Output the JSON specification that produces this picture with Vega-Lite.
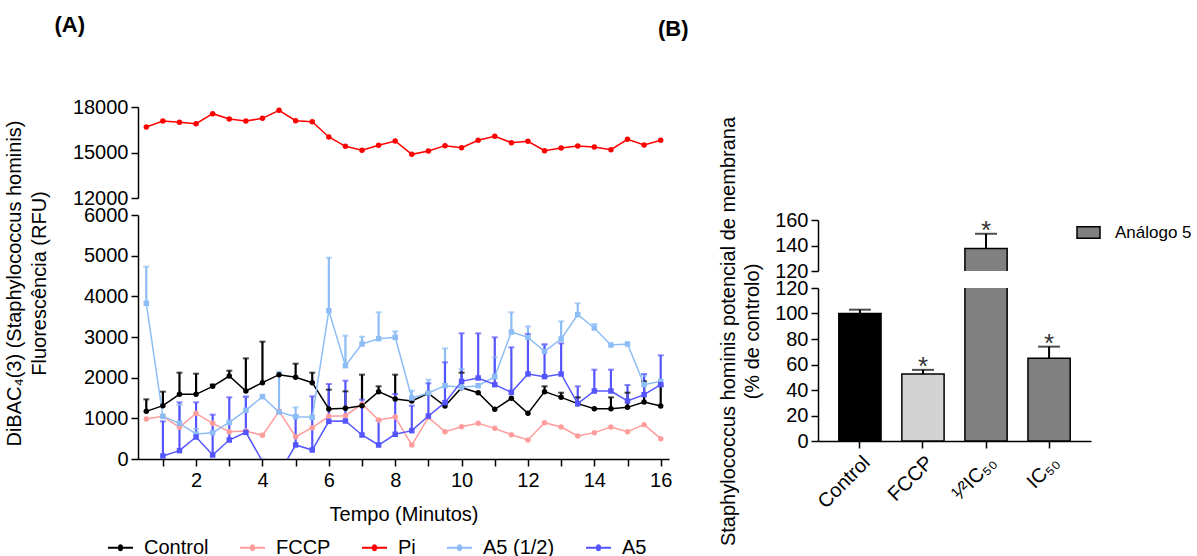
{
  "$schema": "https://vega.github.io/schema/vega-lite/v6.json",
  "background": "white",
  "padding": {"left": 4, "top": 14, "right": 0, "bottom": 40},
  "config": {
    "font": "Liberation Sans",
    "view": {"stroke": null},
    "axis": {"grid": false, "domainColor": "black", "tickColor": "black", "domainWidth": 1.5, "tickWidth": 1.5, "tickSize": 7, "labelFontSize": 20, "labelColor": "black", "titleFontSize": 20, "titleFontWeight": "normal", "titleColor": "black", "labelFont": "Liberation Sans", "titleFont": "Liberation Sans", "labelPadding": 3},
    "legend": {"labelFontSize": 20, "labelColor": "black", "labelFont": "Liberation Sans"},
    "title": {"font": "Liberation Sans", "color": "black"}
  },
  "datasets": {
    "lines": [
      {"s":"FCCP","t":0.5,"v":984},{"s":"FCCP","t":1,"v":1049},{"s":"FCCP","t":1.5,"v":779},{"s":"FCCP","t":2,"v":1123},{"s":"FCCP","t":2.5,"v":877},{"s":"FCCP","t":3,"v":672},{"s":"FCCP","t":3.5,"v":689},{"s":"FCCP","t":4,"v":582},{"s":"FCCP","t":4.5,"v":1172},{"s":"FCCP","t":5,"v":549},{"s":"FCCP","t":5.5,"v":770},{"s":"FCCP","t":6,"v":1049},{"s":"FCCP","t":6.5,"v":1066},{"s":"FCCP","t":7,"v":1352},{"s":"FCCP","t":7.5,"v":959},{"s":"FCCP","t":8,"v":1033},{"s":"FCCP","t":8.5,"v":344},{"s":"FCCP","t":9,"v":1025},{"s":"FCCP","t":9.5,"v":672},{"s":"FCCP","t":10,"v":795},{"s":"FCCP","t":10.5,"v":877},{"s":"FCCP","t":11,"v":754},{"s":"FCCP","t":11.5,"v":598},{"s":"FCCP","t":12,"v":467},{"s":"FCCP","t":12.5,"v":893},{"s":"FCCP","t":13,"v":787},{"s":"FCCP","t":13.5,"v":566},{"s":"FCCP","t":14,"v":648},{"s":"FCCP","t":14.5,"v":787},{"s":"FCCP","t":15,"v":672},{"s":"FCCP","t":15.5,"v":844},{"s":"FCCP","t":16,"v":500},
      {"s":"Control","t":0.5,"v":1172,"hi":1467},{"s":"Control","t":1,"v":1311,"hi":1656},{"s":"Control","t":1.5,"v":1590,"hi":2123},{"s":"Control","t":2,"v":1590,"hi":2098},{"s":"Control","t":2.5,"v":1787,"hi":1830},{"s":"Control","t":3,"v":2041,"hi":2172},{"s":"Control","t":3.5,"v":1672,"hi":2475},{"s":"Control","t":4,"v":1877,"hi":2885},{"s":"Control","t":4.5,"v":2074},{"s":"Control","t":5,"v":2008,"hi":2344},{"s":"Control","t":5.5,"v":1877,"hi":2123},{"s":"Control","t":6,"v":1230,"hi":1705},{"s":"Control","t":6.5,"v":1246,"hi":1664},{"s":"Control","t":7,"v":1311,"hi":2074},{"s":"Control","t":7.5,"v":1656,"hi":1787},{"s":"Control","t":8,"v":1475,"hi":2074},{"s":"Control","t":8.5,"v":1426},{"s":"Control","t":9,"v":1615},{"s":"Control","t":9.5,"v":1303},{"s":"Control","t":10,"v":1754,"hi":2123},{"s":"Control","t":10.5,"v":1631},{"s":"Control","t":11,"v":1221},{"s":"Control","t":11.5,"v":1492},{"s":"Control","t":12,"v":1123},{"s":"Control","t":12.5,"v":1656,"hi":1787},{"s":"Control","t":13,"v":1516,"hi":1631},{"s":"Control","t":13.5,"v":1361,"hi":1516},{"s":"Control","t":14,"v":1238},{"s":"Control","t":14.5,"v":1238,"hi":1516},{"s":"Control","t":15,"v":1270,"hi":1631},{"s":"Control","t":15.5,"v":1402,"hi":1910},{"s":"Control","t":16,"v":1303,"hi":1803},
      {"s":"A5 (1/2)","t":0.5,"v":3828,"hi":4730},{"s":"A5 (1/2)","t":1,"v":1049},{"s":"A5 (1/2)","t":1.5,"v":877,"hi":1328},{"s":"A5 (1/2)","t":2,"v":615,"hi":738},{"s":"A5 (1/2)","t":2.5,"v":648},{"s":"A5 (1/2)","t":3,"v":902},{"s":"A5 (1/2)","t":3.5,"v":1197,"hi":1533},{"s":"A5 (1/2)","t":4,"v":1533},{"s":"A5 (1/2)","t":4.5,"v":1156,"hi":2148},{"s":"A5 (1/2)","t":5,"v":1041,"hi":1270},{"s":"A5 (1/2)","t":5.5,"v":1025},{"s":"A5 (1/2)","t":6,"v":3648,"hi":4951},{"s":"A5 (1/2)","t":6.5,"v":2295,"hi":3033},{"s":"A5 (1/2)","t":7,"v":2828,"hi":3008},{"s":"A5 (1/2)","t":7.5,"v":2959,"hi":3607},{"s":"A5 (1/2)","t":8,"v":2992,"hi":3139},{"s":"A5 (1/2)","t":8.5,"v":1500,"hi":1680},{"s":"A5 (1/2)","t":9,"v":1623,"hi":1951},{"s":"A5 (1/2)","t":9.5,"v":1803,"hi":2721},{"s":"A5 (1/2)","t":10,"v":1762,"hi":2213},{"s":"A5 (1/2)","t":10.5,"v":1803},{"s":"A5 (1/2)","t":11,"v":2025,"hi":2500},{"s":"A5 (1/2)","t":11.5,"v":3123,"hi":3607},{"s":"A5 (1/2)","t":12,"v":2992,"hi":3262},{"s":"A5 (1/2)","t":12.5,"v":2648,"hi":2811},{"s":"A5 (1/2)","t":13,"v":2951,"hi":3385},{"s":"A5 (1/2)","t":13.5,"v":3549,"hi":3828},{"s":"A5 (1/2)","t":14,"v":3221,"hi":3320},{"s":"A5 (1/2)","t":14.5,"v":2803},{"s":"A5 (1/2)","t":15,"v":2828},{"s":"A5 (1/2)","t":15.5,"v":1828,"hi":2049},{"s":"A5 (1/2)","t":16,"v":1910},
      {"s":"A5","t":1,"v":74,"hi":926},{"s":"A5","t":1.5,"v":205,"hi":1393},{"s":"A5","t":2,"v":541,"hi":1393},{"s":"A5","t":2.5,"v":98,"hi":1090},{"s":"A5","t":3,"v":467,"hi":1516},{"s":"A5","t":3.5,"v":656,"hi":1533},{"s":"A5","t":4,"v":-60},{"s":"A5","t":4.5,"v":-360},{"s":"A5","t":5,"v":344,"hi":1066},{"s":"A5","t":5.5,"v":221,"hi":1541},{"s":"A5","t":6,"v":926,"hi":1844},{"s":"A5","t":6.5,"v":934,"hi":1926},{"s":"A5","t":7,"v":590,"hi":1459},{"s":"A5","t":7.5,"v":344,"hi":943},{"s":"A5","t":8,"v":607,"hi":1598},{"s":"A5","t":8.5,"v":697,"hi":1311},{"s":"A5","t":9,"v":1057,"hi":1861},{"s":"A5","t":9.5,"v":1385,"hi":2377},{"s":"A5","t":10,"v":1910,"hi":3090},{"s":"A5","t":10.5,"v":1992,"hi":3090},{"s":"A5","t":11,"v":1828,"hi":2992},{"s":"A5","t":11.5,"v":1639,"hi":2746},{"s":"A5","t":12,"v":2090,"hi":3074},{"s":"A5","t":12.5,"v":2025,"hi":2820},{"s":"A5","t":13,"v":2090,"hi":2844},{"s":"A5","t":13.5,"v":1361,"hi":1787},{"s":"A5","t":14,"v":1672,"hi":2197},{"s":"A5","t":14.5,"v":1672,"hi":2197},{"s":"A5","t":15,"v":1426,"hi":1820},{"s":"A5","t":15.5,"v":1582,"hi":2090},{"s":"A5","t":16,"v":1828,"hi":2549},
      {"s":"Pi","t":0.5,"v":16681},{"s":"Pi","t":1,"v":17077},{"s":"Pi","t":1.5,"v":16989},{"s":"Pi","t":2,"v":16901},{"s":"Pi","t":2.5,"v":17560},{"s":"Pi","t":3,"v":17209},{"s":"Pi","t":3.5,"v":17077},{"s":"Pi","t":4,"v":17253},{"s":"Pi","t":4.5,"v":17780},{"s":"Pi","t":5,"v":17099},{"s":"Pi","t":5.5,"v":17033},{"s":"Pi","t":6,"v":16022},{"s":"Pi","t":6.5,"v":15407},{"s":"Pi","t":7,"v":15143},{"s":"Pi","t":7.5,"v":15473},{"s":"Pi","t":8,"v":15758},{"s":"Pi","t":8.5,"v":14879},{"s":"Pi","t":9,"v":15099},{"s":"Pi","t":9.5,"v":15451},{"s":"Pi","t":10,"v":15319},{"s":"Pi","t":10.5,"v":15802},{"s":"Pi","t":11,"v":16066},{"s":"Pi","t":11.5,"v":15648},{"s":"Pi","t":12,"v":15736},{"s":"Pi","t":12.5,"v":15121},{"s":"Pi","t":13,"v":15297},{"s":"Pi","t":13.5,"v":15429},{"s":"Pi","t":14,"v":15363},{"s":"Pi","t":14.5,"v":15187},{"s":"Pi","t":15,"v":15868},{"s":"Pi","t":15.5,"v":15495},{"s":"Pi","t":16,"v":15802}
    ],
    "bars": [
      {"cat":"Control","grp":"Control","v":100,"hi":103,"star":""},
      {"cat":"FCCP","grp":"FCCP","v":52.5,"hi":55.8,"star":"*"},
      {"cat":"¹⁄²IC₅₀","grp":"Análogo 5","v":137.7,"hi":149.2,"star":"*"},
      {"cat":"IC₅₀","grp":"Análogo 5","v":65,"hi":74,"star":"*"}
    ]
  },
  "bounds": "flush",
  "resolve": {"scale": {"color": "independent", "shape": "independent", "x": "independent", "y": "independent"}, "legend": {"color": "independent"}},
  "spacing": 680,
  "hconcat": [
    {
      "title": {"text": "(A)", "anchor": "start", "fontSize": 22, "fontWeight": "bold", "dx": 50, "offset": 60},
      "spacing": 17,
      "bounds": "flush",
      "resolve": {"scale": {"x": "independent", "y": "independent"}, "legend": {"color": "independent"}},
      "vconcat": [
        {
          "width": 531, "height": 91,
          "data": {"name": "lines"},
          "transform": [{"filter": "datum.s === 'Pi'"}],
          "encoding": {
            "x": {"field": "t", "type": "quantitative", "scale": {"domain": [0.25, 16.25], "nice": false}, "axis": null},
            "y": {"field": "v", "type": "quantitative", "scale": {"domain": [12000, 18000], "nice": false, "zero": false}, "axis": {"values": [12000, 15000, 18000], "format": "d", "title": null}},
            "color": {"field": "s", "type": "nominal", "scale": {"domain": ["Control", "FCCP", "Pi", "A5 (1/2)", "A5"], "range": ["#000000", "#FF9C9C", "#FF0000", "#8DBDF5", "#5555FF"]}, "legend": null}
          },
          "layer": [
            {"mark": {"type": "line", "strokeWidth": 1.5, "clip": true}},
            {"mark": {"type": "point", "filled": true, "size": 30, "opacity": 1, "shape": "circle", "clip": true}}
          ]
        },
        {
          "width": 531, "height": 244,
          "data": {"name": "lines"},
          "transform": [{"filter": "datum.s !== 'Pi'"}],
          "resolve": {"legend": {"color": "independent"}},
          "encoding": {
            "x": {"field": "t", "type": "quantitative", "scale": {"domain": [0.25, 16.25], "nice": false},
                  "axis": {"values": [1,2,3,4,5,6,7,8,9,10,11,12,13,14,15,16], "labelExpr": "datum.value % 2 === 0 ? datum.label : ''", "labelOverlap": false, "labelFlush": false, "title": "Tempo (Minutos)", "titlePadding": 14, "labelPadding": 4}},
            "y": {"field": "v", "type": "quantitative", "scale": {"domain": [0, 6000], "nice": false}, "axis": {"values": [0,1000,2000,3000,4000,5000,6000], "format": "d", "title": ["DiBAC₄(3) (Staphylococcus hominis)", "Fluorescência (RFU)"], "titleY": 68, "titlePadding": 34, "titleLineHeight": 25}},
            "color": {"field": "s", "type": "nominal", "scale": {"domain": ["Control", "FCCP", "Pi", "A5 (1/2)", "A5"], "range": ["#000000", "#FF9C9C", "#FF0000", "#8DBDF5", "#5555FF"]}, "legend": null}
          },
          "layer": [
            {"transform": [{"filter": "datum.hi != null"}], "mark": {"type": "rule", "strokeWidth": 2.2, "clip": true}, "encoding": {"y2": {"field": "hi"}}},
            {"transform": [{"filter": "datum.hi != null"}], "mark": {"type": "tick", "orient": "horizontal", "size": 6, "thickness": 2, "clip": true}, "encoding": {"y": {"field": "hi", "type": "quantitative"}}},
            {"mark": {"type": "line", "strokeWidth": 1.5, "clip": true}},
            {"mark": {"type": "point", "filled": true, "opacity": 1, "clip": true},
             "encoding": {
               "shape": {"field": "s", "type": "nominal", "scale": {"domain": ["Control", "FCCP", "Pi", "A5 (1/2)", "A5"], "range": ["circle", "circle", "circle", "square", "square"]}, "legend": null},
               "size": {"value": 30},
               "color": {"field": "s", "type": "nominal", "scale": {"domain": ["Control", "FCCP", "Pi", "A5 (1/2)", "A5"], "range": ["#000000", "#FF9C9C", "#FF0000", "#8DBDF5", "#5555FF"]},
                 "legend": {"orient": "none", "legendX": -30, "legendY": 320, "direction": "horizontal", "title": null, "symbolType": "M-1,-0.08H-0.2A0.2,0.2 0 0,1 0.2,-0.08H1V0.08H0.2A0.2,0.2 0 0,1 -0.2,0.08H-1Z", "symbolSize": 625, "symbolStrokeWidth": 0, "symbolOpacity": 1, "labelFontSize": 20, "labelOffset": 11, "columnPadding": 31}}
             }}
          ]
        }
      ]
    },
    {
      "spacing": 17,
      "bounds": "flush",
      "resolve": {"scale": {"x": "independent", "y": "independent"}},
      "vconcat": [
        {
          "width": 273, "height": 96,
          "title": {"text": "(B)", "anchor": "start", "fontSize": 22, "fontWeight": "bold", "dx": -160, "offset": 66},
          "data": {"values": [{"a": 1}]},
          "mark": {"type": "text", "text": ""},
          "encoding": {}
        },
        {
          "width": 273, "height": 51,
          "data": {"name": "bars"},
          "encoding": {
            "x": {"field": "cat", "type": "nominal", "sort": null, "scale": {"paddingInner": 0.33, "paddingOuter": 0.33}, "axis": null},
            "y": {"field": "v", "type": "quantitative", "scale": {"domain": [120, 160], "nice": false, "zero": false}, "axis": {"values": [120, 140, 160], "title": null}}
          },
          "layer": [
            {"mark": {"type": "bar", "stroke": "black", "strokeWidth": 1.5, "clip": true},
             "encoding": {
               "y2": {"datum": 0},
               "color": {"field": "grp", "type": "nominal", "scale": {"domain": ["Control", "FCCP", "Análogo 5"], "range": ["#000000", "#D3D3D3", "#808080"]},
                 "legend": {"orient": "none", "legendX": 258, "legendY": 113, "title": null, "values": ["Análogo 5"], "symbolType": "M-1,-0.5H1V0.5H-1Z", "symbolSize": 529, "symbolStrokeColor": "black", "symbolStrokeWidth": 1.5, "labelFontSize": 17, "labelOffset": 14}}
             }},
            {"mark": {"type": "rule", "strokeWidth": 2, "color": "black", "clip": true}, "encoding": {"y2": {"field": "hi"}}},
            {"mark": {"type": "tick", "orient": "horizontal", "size": 22, "thickness": 2, "color": "black", "clip": true}, "encoding": {"y": {"field": "hi", "type": "quantitative"}}},
            {"mark": {"type": "text", "fontSize": 26, "color": "#333333", "baseline": "alphabetic", "dy": 5, "clip": true}, "encoding": {"y": {"field": "hi", "type": "quantitative"}, "text": {"field": "star"}}}
          ]
        },
        {
          "width": 273, "height": 153,
          "data": {"name": "bars"},
          "encoding": {
            "x": {"field": "cat", "type": "nominal", "sort": null, "scale": {"paddingInner": 0.33, "paddingOuter": 0.33}, "axis": {"title": null, "labelAngle": -45, "labelPadding": 4}},
            "y": {"field": "v", "type": "quantitative", "scale": {"domain": [0, 120], "nice": false}, "axis": {"values": [0,20,40,60,80,100,120], "title": ["Staphylococcus hominis potencial de membrana", "(% de controlo)"], "titleY": 43, "titlePadding": 12, "titleLineHeight": 24}}
          },
          "layer": [
            {"mark": {"type": "bar", "stroke": "black", "strokeWidth": 1.5, "clip": true},
             "encoding": {
               "color": {"field": "grp", "type": "nominal", "scale": {"domain": ["Control", "FCCP", "Análogo 5"], "range": ["#000000", "#D3D3D3", "#808080"]}, "legend": null}
             }},
            {"mark": {"type": "rule", "strokeWidth": 2, "color": "black", "clip": true}, "encoding": {"y2": {"field": "hi"}}},
            {"mark": {"type": "tick", "orient": "horizontal", "size": 22, "thickness": 2, "color": "black", "clip": true}, "encoding": {"y": {"field": "hi", "type": "quantitative"}}},
            {"mark": {"type": "text", "fontSize": 26, "color": "#333333", "baseline": "alphabetic", "dy": 5, "clip": true}, "encoding": {"y": {"field": "hi", "type": "quantitative"}, "text": {"field": "star"}}}
          ]
        }
      ]
    }
  ]
}
